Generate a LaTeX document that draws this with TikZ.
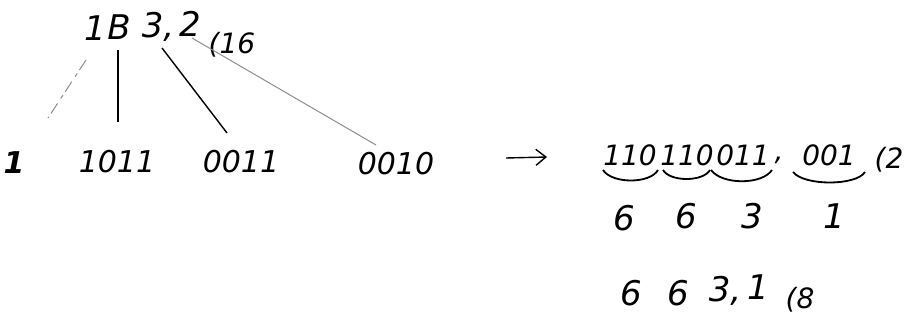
\documentclass[tikz,border=0pt]{standalone}
\usepackage{fontspec}
\setsansfont{DejaVu Sans}
\usetikzlibrary{arrows.meta}
\begin{document}
\begin{tikzpicture}[x=0.5pt,y=-0.5pt,
  big/.style={font=\fontsize{17}{17}\selectfont\sffamily\itshape, inner sep=0pt},
  mid/.style={font=\fontsize{15}{15}\selectfont\sffamily\itshape, inner sep=0pt},
  bin/.style={font=\fontsize{14}{14}\selectfont\sffamily\itshape, inner sep=0pt},
  sub/.style={font=\fontsize{14}{14}\selectfont\sffamily\itshape, inner sep=0pt},
  link/.style={line width=0.7pt, black},
  faint/.style={line width=0.5pt, black!45},
  brc/.style={line width=0.9pt, black}]
\useasboundingbox (0,0) rectangle (913,320);
% top number
\node[big] (t1) at (95,28) {1};
\node[big] (tB) at (119,27) {B};
\node[big] (t3) at (158,27) {3,};
\node[big] (t2) at (190,24) {2};
\node[sub] (t16) at (232,45) {(16};
% bottom groups
\node[mid,font=\fontsize{15}{15}\selectfont\sffamily\bfseries\itshape] (b1) at (14,163) {1};
\node[mid] (b2) at (117,162) {1011};
\node[mid] (b3) at (241,162) {0011};
\node[mid] (b4) at (396,164) {0010};
% connectors
\coordinate (c1a) at (86,60); \coordinate (c1b) at (48,118);
\coordinate (c2a) at (118,50); \coordinate (c2b) at (118,122);
\coordinate (c3a) at (162,48); \coordinate (c3b) at (227,133);
\coordinate (c4a) at (192,38); \coordinate (c4b) at (376,145);
\draw[faint, dash pattern=on 6pt off 2pt on 2pt off 3pt] (c1a) -- (c1b);
\draw[link] (c2a) -- (c2b);
\draw[link] (c3a) -- (c3b);
\draw[faint] (c4a) -- (c4b);
% arrow
\coordinate (a1) at (506,158); \coordinate (a2) at (547,157);
\draw[line width=0.7pt, -{Straight Barb[length=5pt,width=8pt]}] (a1) -- (a2);
% binary
\node[bin] (g1) at (630,155) {110};
\node[bin] (g2) at (687,155) {110};
\node[bin] (g3) at (743,155) {011};
\node[bin] (gc) at (779,160) {,};
\node[bin] (g4) at (829,155) {001};
\node[sub] (g2b) at (889,160) {(2};
% braces
\draw[brc] (603,170) .. controls (612,184) and (650,184) .. (658,170);
\draw[brc] (663,170) .. controls (670,182) and (703,182) .. (710,170);
\draw[brc] (711,170) .. controls (722,185) and (762,185) .. (772,170);
\draw[brc] (793,172) .. controls (804,186) and (856,186) .. (865,172);
% octal digits
\node[big] (o1) at (624,218) {6};
\node[big] (o2) at (686,216) {6};
\node[big] (o3) at (752,216) {3};
\node[big] (o4) at (834,216) {1};
% result
\node[big] (r1) at (631,293) {6};
\node[big] (r2) at (678,293) {6};
\node[big] (r3) at (725,291) {3,};
\node[big] (r4) at (758,287) {1};
\node[sub] (r8) at (800,300) {(8};
\end{tikzpicture}
\end{document}
